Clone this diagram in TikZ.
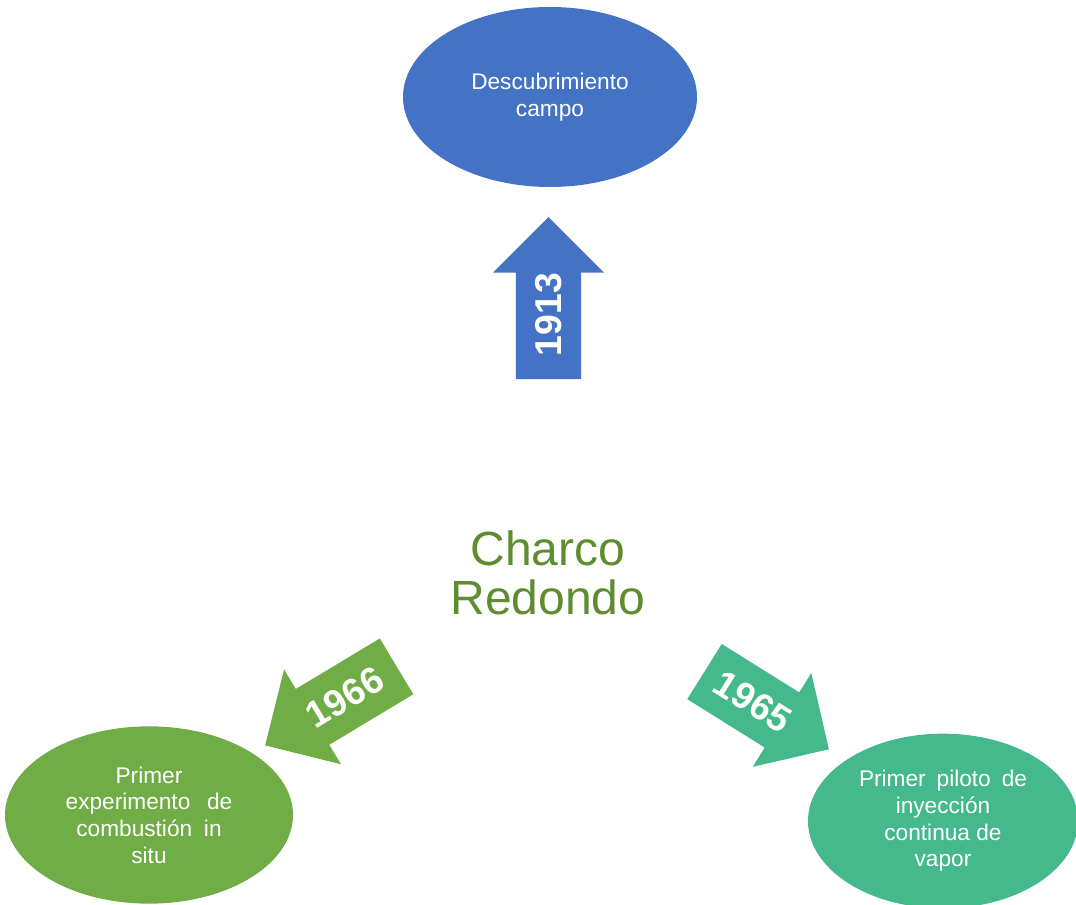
\documentclass[tikz,border=0pt]{standalone}
\usepackage{fontspec}
\setmainfont{Liberation Sans}
\usepackage{xcolor}
\usetikzlibrary{shapes.geometric, shapes.arrows}
\definecolor{blueev}{HTML}{4472C4}
\definecolor{greenev}{HTML}{70AD47}
\definecolor{tealev}{HTML}{44B98C}
\definecolor{charcogreen}{HTML}{5E8C31}
\tikzstyle{event} = [ellipse, inner sep=0pt, text=white, align=center, font=\fontsize{17}{20}\selectfont]
\tikzstyle{year} = [single arrow, single arrow head extend=16pt, minimum width=83pt, minimum height=121.5pt, inner xsep=2pt, inner ysep=12.75pt, text=white, font=\fontsize{28}{28}\selectfont\bfseries]
\newcommand{\stretchline}[2]{\makebox[#1][s]{#2}}

\begin{document}
\begin{tikzpicture}[x=0.75pt, y=-0.75pt]
    \useasboundingbox (0,0) rectangle (1076,905);
    \node (charco) [text=charcogreen, align=center, font=\fontsize{36}{37}\selectfont] at (548,573) {Charco\\Redondo};
    \node (desc) [event, fill=blueev, minimum width=220.5pt, minimum height=135pt] at (550,97) {Descubrimiento\\campo};
    \node (comb) [event, fill=greenev, minimum width=216pt, minimum height=133pt] at (149,815) {Primer\\\stretchline{125pt}{experimento de}\\\stretchline{109pt}{combusti\'on in}\\situ};
    \node (vapor) [event, fill=tealev, minimum width=202.5pt, minimum height=131pt] at (943,821) {\stretchline{126pt}{Primer piloto de}\\inyecci\'on\\continua de\\vapor};
    \node (y1913) [year, fill=blueev, rotate=90] at (548.5,314.5) {1913};
    \node (y1966) [year, fill=greenev, rotate=31, shape border rotate=180, minimum height=115pt] at (344.8,697.5) {1966};
    \node (y1965) [year, fill=tealev, rotate=-32, minimum height=110pt] at (752.9,701.8) {1965};
\end{tikzpicture}
\end{document}
